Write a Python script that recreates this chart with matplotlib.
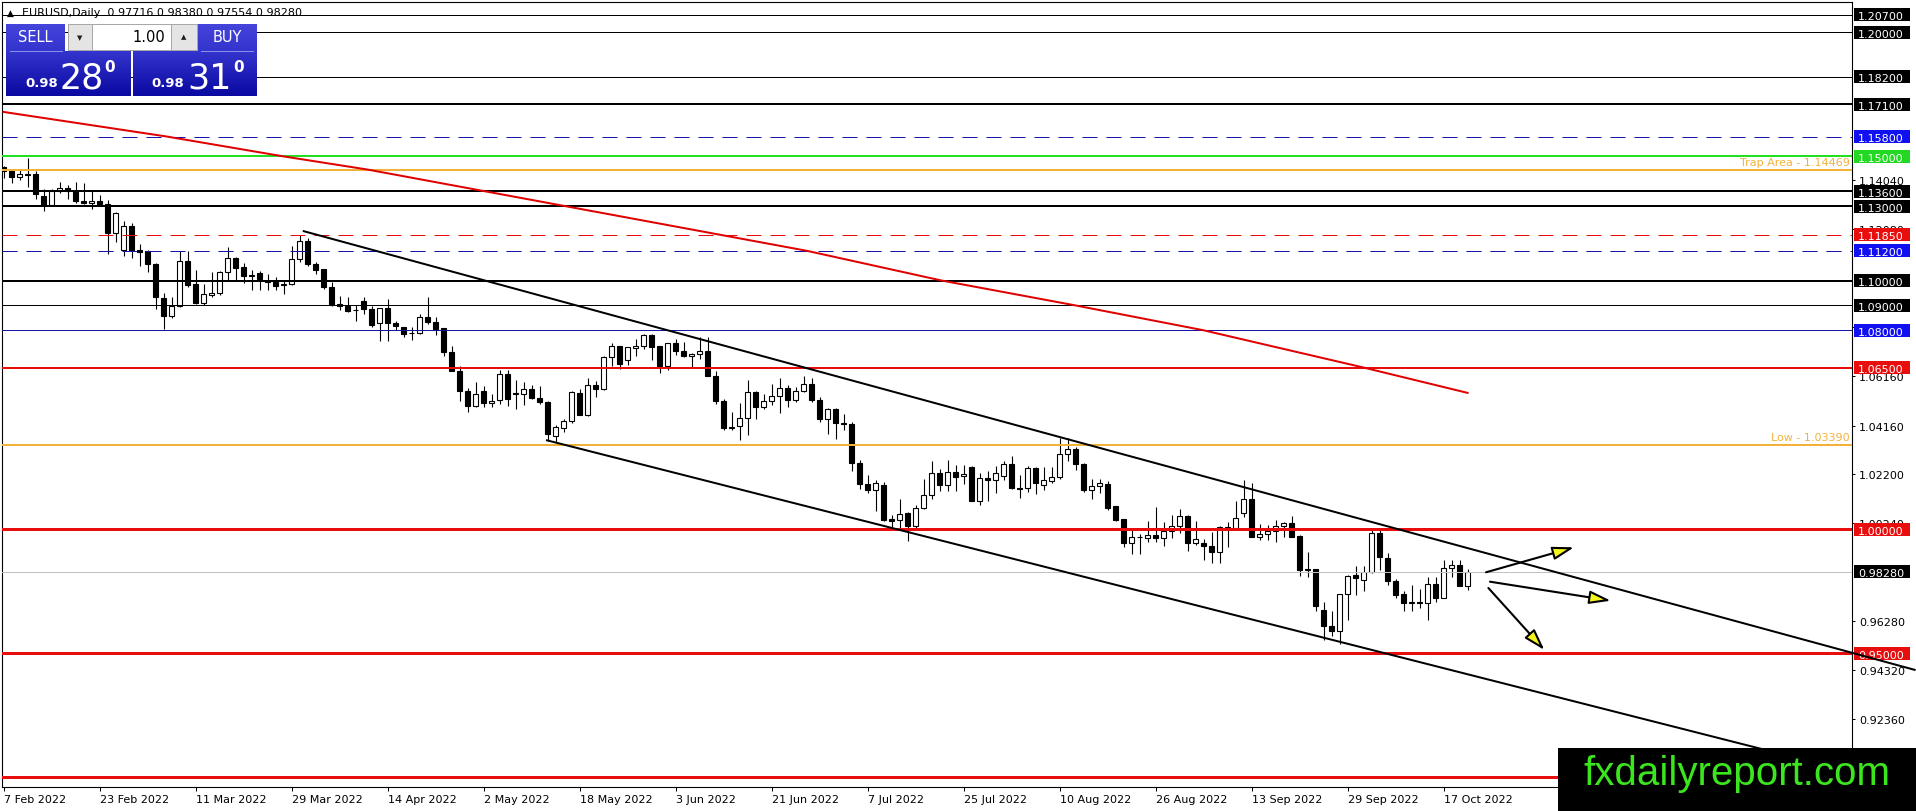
import numpy as np
import matplotlib
matplotlib.use("Agg")
import matplotlib.pyplot as plt
from matplotlib import transforms
from matplotlib.colors import LinearSegmentedColormap
from matplotlib.patches import Rectangle

plt.rcParams["font.family"] = ["DejaVu Sans"]
plt.rcParams["lines.scale_dashes"] = False

# ---------------- data (EURUSD daily, 7 Feb 2022 .. 20 Oct 2022) ----------------
opens = [
    1.1458, 1.1442, 1.1418, 1.1430, 1.1428,
    1.1340, 1.1305, 1.1362, 1.1372, 1.1361,
    1.1320, 1.1312, 1.1322, 1.1308, 1.1190,
    1.1125, 1.1220, 1.1123, 1.1119, 1.1067,
    1.0930, 1.0858, 1.0898, 1.1079, 1.0986,
    1.0910, 1.0944, 1.0952, 1.1033, 1.1091,
    1.1055, 1.1018, 1.1031, 1.1000, 1.0998,
    1.0982, 1.0986, 1.1087, 1.1159, 1.1067,
    1.1047, 1.0974, 1.0906, 1.0898, 1.0880,
    1.0918, 1.0886, 1.0829, 1.0890, 1.0829,
    1.0813, 1.0790, 1.0789, 1.0853, 1.0833,
    1.0809, 1.0712, 1.0636, 1.0556, 1.0495,
    1.0555, 1.0507, 1.0519, 1.0624, 1.0549,
    1.0543, 1.0564, 1.0527, 1.0511, 1.0374,
    1.0406, 1.0435, 1.0548, 1.0459, 1.0580,
    1.0564, 1.0692, 1.0737, 1.0680, 1.0729,
    1.0737, 1.0781, 1.0737, 1.0656, 1.0749,
    1.0717, 1.0696, 1.0705, 1.0716, 1.0616,
    1.0515, 1.0406, 1.0415, 1.0447, 1.0552,
    1.0493, 1.0515, 1.0535, 1.0567, 1.0521,
    1.0554, 1.0583, 1.0518, 1.0443, 1.0483,
    1.0427, 1.0423, 1.0266, 1.0181, 1.0157,
    1.0177, 1.0040, 1.0036, 1.0064, 1.0012,
    1.0085, 1.0137, 1.0225, 1.0177, 1.0230,
    1.0212, 1.0250, 1.0113, 1.0205, 1.0197,
    1.0213, 1.0262, 1.0165, 1.0165, 1.0246,
    1.0177, 1.0193, 1.0209, 1.0302, 1.0322,
    1.0262, 1.0157, 1.0173, 1.0181, 1.0093,
    1.0040, 0.9944, 0.9968, 0.9964, 0.9976,
    0.9964, 0.9992, 1.0012, 1.0052, 0.9944,
    0.9944, 0.9930, 0.9907, 1.0008, 1.0004,
    1.0065, 1.0121, 0.9968, 0.9980, 0.9992,
    1.0012, 1.0024, 0.9972, 0.9835, 0.9839,
    0.9675, 0.9610, 0.9590, 0.9738, 0.9815,
    0.9795, 0.9827, 0.9984, 0.9883, 0.9790,
    0.9738, 0.9702, 0.9706, 0.9702, 0.9779,
    0.9722, 0.9843, 0.9857, 0.97716,
]
highs = [
    1.1462, 1.1449, 1.1448, 1.1495, 1.1440,
    1.1369, 1.1367, 1.1397, 1.1386, 1.1395,
    1.1393, 1.1360, 1.1343, 1.1324, 1.1275,
    1.1240, 1.1233, 1.1148, 1.1123, 1.1070,
    1.0950, 1.0932, 1.1120, 1.1121, 1.1042,
    1.0985, 1.1035, 1.1037, 1.1137, 1.1097,
    1.1069, 1.1044, 1.1040, 1.1028, 1.1016,
    1.0998, 1.1138, 1.1185, 1.1171, 1.1076,
    1.1048, 1.0994, 1.0937, 1.0935, 1.0902,
    1.0935, 1.0896, 1.0891, 1.0924, 1.0838,
    1.0815, 1.0815, 1.0866, 1.0936, 1.0854,
    1.0809, 1.0737, 1.0657, 1.0568, 1.0590,
    1.0574, 1.0542, 1.0641, 1.0642, 1.0598,
    1.0593, 1.0578, 1.0577, 1.0515, 1.0417,
    1.0444, 1.0554, 1.0564, 1.0606, 1.0594,
    1.0697, 1.0748, 1.0737, 1.0729, 1.0765,
    1.0787, 1.0786, 1.0737, 1.0750, 1.0764,
    1.0752, 1.0709, 1.0774, 1.0773, 1.0637,
    1.0522, 1.0471, 1.0506, 1.0601, 1.0556,
    1.0545, 1.0582, 1.0606, 1.0579, 1.0570,
    1.0615, 1.0606, 1.0530, 1.0486, 1.0488,
    1.0463, 1.0430, 1.0276, 1.0219, 1.0197,
    1.0188, 1.0058, 1.0122, 1.0070, 1.0097,
    1.0200, 1.0272, 1.0240, 1.0278, 1.0258,
    1.0258, 1.0255, 1.0225, 1.0234, 1.0254,
    1.0275, 1.0294, 1.0218, 1.0254, 1.0250,
    1.0248, 1.0248, 1.0368, 1.0366, 1.0331,
    1.0266, 1.0202, 1.0202, 1.0193, 1.0093,
    1.0042, 0.9999, 0.9979, 1.0032, 1.0089,
    1.0030, 1.0055, 1.0080, 1.0057, 1.0033,
    0.9961, 0.9989, 1.0011, 1.0030, 1.0113,
    1.0198, 1.0187, 1.0019, 1.0017, 1.0037,
    1.0030, 1.0051, 0.9976, 0.9907, 0.9841,
    0.9706, 0.9671, 0.9738, 0.9815, 0.9853,
    0.9853, 0.9999, 0.9999, 0.9904, 0.9797,
    0.9749, 0.9776, 0.9757, 0.9807, 0.9808,
    0.9874, 0.9875, 0.9874, 0.98380,
]
lows = [
    1.1413, 1.1392, 1.1404, 1.1375, 1.1329,
    1.1280, 1.1300, 1.1351, 1.1329, 1.1314,
    1.1307, 1.1290, 1.1302, 1.1106, 1.1155,
    1.1100, 1.1090, 1.1060, 1.1035, 1.0887,
    1.0806, 1.0850, 1.0895, 1.0975, 1.0905,
    1.0903, 1.0935, 1.0944, 1.1004, 1.1003,
    1.0991, 1.0962, 1.0963, 1.0962, 1.0964,
    1.0945, 1.0982, 1.1076, 1.1059, 1.1026,
    1.0967, 1.0898, 1.0880, 1.0875, 1.0838,
    1.0867, 1.0815, 1.0757, 1.0758, 1.0800,
    1.0771, 1.0760, 1.0785, 1.0826, 1.0782,
    1.0695, 1.0635, 1.0515, 1.0471, 1.0493,
    1.0490, 1.0492, 1.0505, 1.0494, 1.0483,
    1.0500, 1.0525, 1.0505, 1.0354, 1.0349,
    1.0389, 1.0428, 1.0459, 1.0455, 1.0530,
    1.0559, 1.0655, 1.0643, 1.0662, 1.0698,
    1.0724, 1.0680, 1.0627, 1.0642, 1.0701,
    1.0692, 1.0653, 1.0686, 1.0614, 1.0505,
    1.0398, 1.0397, 1.0359, 1.0380, 1.0444,
    1.0483, 1.0500, 1.0469, 1.0491, 1.0511,
    1.0552, 1.0512, 1.0432, 1.0382, 1.0364,
    1.0400, 1.0235, 1.0162, 1.0144, 1.0072,
    1.0034, 0.9998, 0.9998, 0.9952, 1.0005,
    1.0081, 1.0122, 1.0154, 1.0153, 1.0155,
    1.0180, 1.0111, 1.0097, 1.0112, 1.0145,
    1.0197, 1.0162, 1.0124, 1.0148, 1.0142,
    1.0156, 1.0184, 1.0202, 1.0275, 1.0236,
    1.0150, 1.0122, 1.0145, 1.0076, 1.0033,
    0.9926, 0.9901, 0.9900, 0.9947, 0.9948,
    0.9933, 0.9963, 0.9982, 0.9910, 0.9934,
    0.9876, 0.9864, 0.9863, 0.9928, 1.0002,
    1.0050, 0.9966, 0.9954, 0.9956, 0.9946,
    0.9966, 0.9968, 0.9812, 0.9807, 0.9669,
    0.9553, 0.9571, 0.9536, 0.9635, 0.9736,
    0.9750, 0.9822, 0.9835, 0.9776, 0.9723,
    0.9668, 0.9669, 0.9683, 0.9632, 0.9706,
    0.9722, 0.9808, 0.9770, 0.97554,
]
closes = [
    1.1442, 1.1418, 1.1430, 1.1427, 1.1350,
    1.1305, 1.1362, 1.1372, 1.1361, 1.1320,
    1.1312, 1.1322, 1.1308, 1.1190, 1.1272,
    1.1220, 1.1123, 1.1117, 1.1067, 1.0932,
    1.0858, 1.0898, 1.1079, 1.0982, 1.0910,
    1.0946, 1.0952, 1.1033, 1.1091, 1.1049,
    1.1018, 1.1024, 1.1006, 1.0996, 1.0980,
    1.0986, 1.1087, 1.1159, 1.1067, 1.1043,
    1.0974, 1.0902, 1.0898, 1.0878, 1.0882,
    1.0886, 1.0821, 1.0890, 1.0829, 1.0817,
    1.0785, 1.0788, 1.0853, 1.0833, 1.0805,
    1.0712, 1.0636, 1.0556, 1.0495, 1.0543,
    1.0507, 1.0515, 1.0624, 1.0525, 1.0545,
    1.0564, 1.0527, 1.0511, 1.0382, 1.0410,
    1.0435, 1.0552, 1.0459, 1.0580, 1.0562,
    1.0692, 1.0737, 1.0664, 1.0733, 1.0737,
    1.0781, 1.0733, 1.0656, 1.0749, 1.0717,
    1.0696, 1.0705, 1.0717, 1.0617, 1.0515,
    1.0406, 1.0412, 1.0447, 1.0552, 1.0493,
    1.0515, 1.0535, 1.0567, 1.0521, 1.0554,
    1.0583, 1.0518, 1.0443, 1.0483, 1.0427,
    1.0423, 1.0266, 1.0181, 1.0157, 1.0185,
    1.0036, 1.0034, 1.0062, 1.0012, 1.0085,
    1.0137, 1.0225, 1.0177, 1.0230, 1.0210,
    1.0220, 1.0113, 1.0205, 1.0197, 1.0225,
    1.0262, 1.0165, 1.0163, 1.0246, 1.0185,
    1.0197, 1.0210, 1.0302, 1.0322, 1.0262,
    1.0157, 1.0173, 1.0185, 1.0085, 1.0036,
    0.9944, 0.9968, 0.9966, 0.9976, 0.9964,
    0.9992, 1.0012, 1.0052, 0.9944, 0.9960,
    0.9930, 0.9907, 1.0008, 1.0004, 1.0044,
    1.0121, 0.9968, 0.9980, 0.9992, 1.0012,
    1.0024, 0.9968, 0.9835, 0.9839, 0.9690,
    0.9610, 0.9590, 0.9738, 0.9811, 0.9803,
    0.9827, 0.9984, 0.9887, 0.9790, 0.9734,
    0.9702, 0.9706, 0.9702, 0.9779, 0.9722,
    0.9843, 0.9857, 0.9771, 0.98280,
]

date_ticks = [0, 12, 24, 36, 48, 60, 72, 84, 96, 108, 120, 132, 144, 156, 168, 180]
date_labels = ["7 Feb 2022", "23 Feb 2022", "11 Mar 2022", "29 Mar 2022",
               "14 Apr 2022", "2 May 2022", "18 May 2022", "3 Jun 2022",
               "21 Jun 2022", "7 Jul 2022", "25 Jul 2022", "10 Aug 2022",
               "26 Aug 2022", "13 Sep 2022", "29 Sep 2022", "17 Oct 2022"]

# plain scale labels (the ones hidden under the price tags are left out)
price_ticks = [0.92360, 0.94320, 0.96280, 1.00240, 1.02200, 1.04160,
               1.06160, 1.08120, 1.12080, 1.14040]

# horizontal levels drawn on the chart
level_prices = [1.20700, 1.20000, 1.18200, 1.17100, 1.15800, 1.15000, 1.14469,
                1.13600, 1.13000, 1.11850, 1.11200, 1.10000, 1.09000, 1.08000,
                1.06500, 1.03390, 1.00000, 0.98280, 0.95000, 0.90000]
level_colors = ["black", "black", "black", "black", "blue", "green", "orange",
                "black", "black", "red", "blue", "black", "black", "blue",
                "red", "orange", "red", "grey", "red", "red"]
level_px = [1, 1, 1, 2, 1, 2, 2, 2, 2, 1, 1, 2, 1, 1, 2, 2, 3, 1, 3, 3]
level_dashed = [False, False, False, False, True, False, False, False, False,
                True, True, False, False, False, False, False, False, False,
                False, False]

# price tags on the right scale
tag_prices = [1.20700, 1.20000, 1.18200, 1.17100, 1.15800, 1.15000, 1.13600,
              1.13000, 1.11850, 1.11200, 1.10000, 1.09000, 1.08000, 1.06500,
              1.00000, 0.98280, 0.95000]
tag_colors = ["black", "black", "black", "black", "tagblue", "tagreen", "black",
              "black", "red", "tagblue", "black", "black", "tagblue", "red",
              "red", "black", "red"]

note_texts = ["Trap Area - 1.14469", "Low - 1.03390"]
note_prices = [1.14469, 1.03390]

# moving average
ma_bars = [0, 20.4, 35, 45.5, 100.4, 117.3, 134, 150, 170, 183]
ma_values = [1.1679, 1.1580, 1.1500, 1.1447, 1.1120, 1.1000, 1.0900, 1.0800,
             1.0650, 1.0548]

# descending channel
upper_bars = [37.4, 239.0]
upper_values = [1.1200, 0.9432]
lower_bars = [67.8, 239.0]
lower_values = [1.0358, 0.8957]

# scenario arrows
arrow_from_bars = [185.3, 185.8, 185.6]
arrow_from_values = [0.98257, 0.97879, 0.97625]
arrow_to_bars = [196.3, 200.9, 192.6]
arrow_to_values = [0.99263, 0.97114, 0.95129]

COLORS = {
    "black": "#000000", "blue": "#1414A8", "green": "#20E020",
    "orange": "#F2B23A", "red": "#E80E0E", "grey": "#C0C0C0",
    "tagblue": "#1010F0", "tagreen": "#22D822",
}

# ---------------- figure ----------------
W, H, DPI = 1916, 812, 100
PX = 72.0 / DPI  # one pixel in points

fig = plt.figure(figsize=(W / DPI, H / DPI), dpi=DPI, facecolor="white")
L, R, T, B = 2, 1852, 3, 788
ax = fig.add_axes([L / W, 1 - B / H, (R - L) / W, (B - T) / H])

idx = np.arange(len(opens))
o = np.array(opens)
h = np.array(highs)
lo = np.array(lows)
c = np.array(closes)
up = c >= o

# candles
ax.vlines(idx, lo, h, color="black", lw=PX * 1.1, zorder=2)
ax.bar(idx[up], (c - o)[up], bottom=o[up], width=0.62, facecolor="white",
       edgecolor="black", lw=PX * 1.1, zorder=2.2)
ax.bar(idx[~up], (o - c)[~up], bottom=c[~up], width=0.62, facecolor="black",
       edgecolor="black", lw=PX * 1.1, zorder=2.2)

# levels
for p, col, px, dsh in zip(level_prices, level_colors, level_px, level_dashed):
    ls = (0, (15 * PX, 9 * PX)) if dsh else "-"
    ax.axhline(p, color=COLORS[col], lw=px * PX, ls=ls, zorder=3)

# notes over the orange levels
note_tr = transforms.blended_transform_factory(ax.transAxes, ax.transData)
for txt, p in zip(note_texts, note_prices):
    ax.annotate(txt, xy=(1.0, p), xycoords=note_tr, xytext=(-2, 3),
                textcoords="offset pixels", ha="right", va="bottom",
                fontsize=8, color=COLORS["orange"], zorder=3.2)

# moving average
ax.plot(ma_bars, ma_values, color="#E00000", lw=2 * PX, zorder=3.3)

# channel
ax.plot(upper_bars, upper_values, color="black", lw=2 * PX, zorder=4,
        clip_on=False, solid_capstyle="butt")
ax.plot(lower_bars, lower_values, color="black", lw=2 * PX, zorder=4,
        solid_capstyle="butt")

# arrows
for x0, y0, x1, y1 in zip(arrow_from_bars, arrow_from_values,
                          arrow_to_bars, arrow_to_values):
    ax.annotate("", xy=(x1, y1), xytext=(x0, y0),
                arrowprops=dict(arrowstyle="-|>,head_length=0.65,head_width=0.2",
                                lw=1.5, ec="black", fc="#F5F51E",
                                shrinkA=0, shrinkB=0, mutation_scale=20),
                zorder=5, annotation_clip=False)

# axes limits (8 px per bar, 2484 px per price unit)
ax.set_xlim((L - 3.6) / 8, (R - 3.6) / 8)
ax.set_ylim(0.89614, 1.21216)

# frame and ticks
for sp in ax.spines.values():
    sp.set_linewidth(PX * 1.1)
    sp.set_color("black")
ax.yaxis.tick_right()
ax.set_yticks(price_ticks)
ax.set_yticklabels(["%.5f" % v for v in price_ticks])
ax.tick_params(axis="y", direction="out", length=3 * PX, width=PX, pad=3,
               labelsize=8, colors="black")
ax.set_xticks(date_ticks)
ax.set_xticklabels(date_labels)
ax.tick_params(axis="x", direction="out", length=4 * PX, width=PX, pad=2,
               labelsize=8, colors="black")
for lbl in ax.get_xticklabels():
    lbl.set_ha("left")

# price tags on the right scale
tag_tr = transforms.blended_transform_factory(fig.transFigure, ax.transData)
half = 6.5 / 2484
for p, col in zip(tag_prices, tag_colors):
    ax.add_patch(Rectangle((1854 / W, p - half), 56 / W, 2 * half,
                           transform=tag_tr, fc=COLORS[col], ec="none",
                           clip_on=False, zorder=3.5))
    ax.text(1858 / W, p - 4.5 / 2484, "%.5f" % p, transform=tag_tr,
            color="white", fontsize=8, ha="left", va="baseline",
            clip_on=False, zorder=3.6)

# ---------------- overlay: header, trade panel, watermark ----------------
ov = fig.add_axes([0, 0, 1, 1], zorder=10)
ov.patch.set_visible(False)
ov.axis("off")


def gradient_box(x0, y0, x1, y1, c_top, c_bottom):
    cmap = LinearSegmentedColormap.from_list("g", [c_top, c_bottom])
    grad = np.linspace(0, 1, 64).reshape(-1, 1)
    ov.imshow(grad, cmap=cmap, extent=(x0, x1, y1, y0), origin="upper",
              aspect="auto", interpolation="bilinear", zorder=1)


ov.text(7, 13, "\u25B2", fontsize=6.5, ha="left", va="center", color="black")
ov.text(22, 13, "EURUSD,Daily  0.97716 0.98380 0.97554 0.98280",
        fontsize=8, ha="left", va="center", color="black")

# sell / buy blocks
gradient_box(6, 25, 65, 52, "#4545DC", "#3434CE")
gradient_box(198, 25, 257, 52, "#4545DC", "#3434CE")
gradient_box(6, 52, 131, 97, "#3434CE", "#0A0AA2")
gradient_box(133, 52, 257, 97, "#3434CE", "#0A0AA2")
ov.plot([10, 62], [52, 52], color="#8C8CEC", lw=PX, zorder=2)
ov.plot([201, 253], [52, 52], color="#8C8CEC", lw=PX, zorder=2)

# lot box
ov.add_patch(Rectangle((68, 25), 129, 26, fc="white", ec="#A8A8A8",
                       lw=PX, zorder=2))
ov.add_patch(Rectangle((68, 25), 24, 26, fc="#E4E4E4", ec="#A8A8A8",
                       lw=PX, zorder=2.1))
ov.add_patch(Rectangle((171, 25), 26, 26, fc="#E4E4E4", ec="#A8A8A8",
                       lw=PX, zorder=2.1))
ov.text(80, 38, "\u25BC", fontsize=5, ha="center", va="center",
        color="#202020", zorder=3)
ov.text(184, 37, "\u25B2", fontsize=5, ha="center", va="center",
        color="#202020", zorder=3)
ov.text(165, 38, "1.00", fontsize=10.5, ha="right", va="center",
        color="black", zorder=3)

ov.text(35.5, 38, "SELL", fontsize=10.5, ha="center", va="center",
        color="white", zorder=3)
ov.text(227.5, 38, "BUY", fontsize=10.5, ha="center", va="center",
        color="white", zorder=3)

for xs, big in [((25, 60, 104), "28"), ((151, 187, 233), "31")]:
    ov.text(xs[0], 87, "0.98", fontsize=9.5, fontweight="bold", ha="left",
            va="baseline", color="white", zorder=3)
    ov.text(xs[1], 88.5, big, fontsize=25, ha="left", va="baseline",
            color="white", zorder=3)
    ov.text(xs[2], 72, "0", fontsize=11, fontweight="bold", ha="left",
            va="baseline", color="white", zorder=3)

# watermark
ov.add_patch(Rectangle((1558, 749), W - 1558, H - 749, fc="black", ec="none",
                       zorder=4))
ov.text(1737, 785, "fxdailyreport.com", fontsize=29,
        family=["Liberation Sans", "DejaVu Sans"], ha="center",
        va="baseline", color="#3CE61E", zorder=5)

ov.set_xlim(0, W)
ov.set_ylim(H, 0)

fig.savefig("out.png", dpi=DPI, facecolor="white")
